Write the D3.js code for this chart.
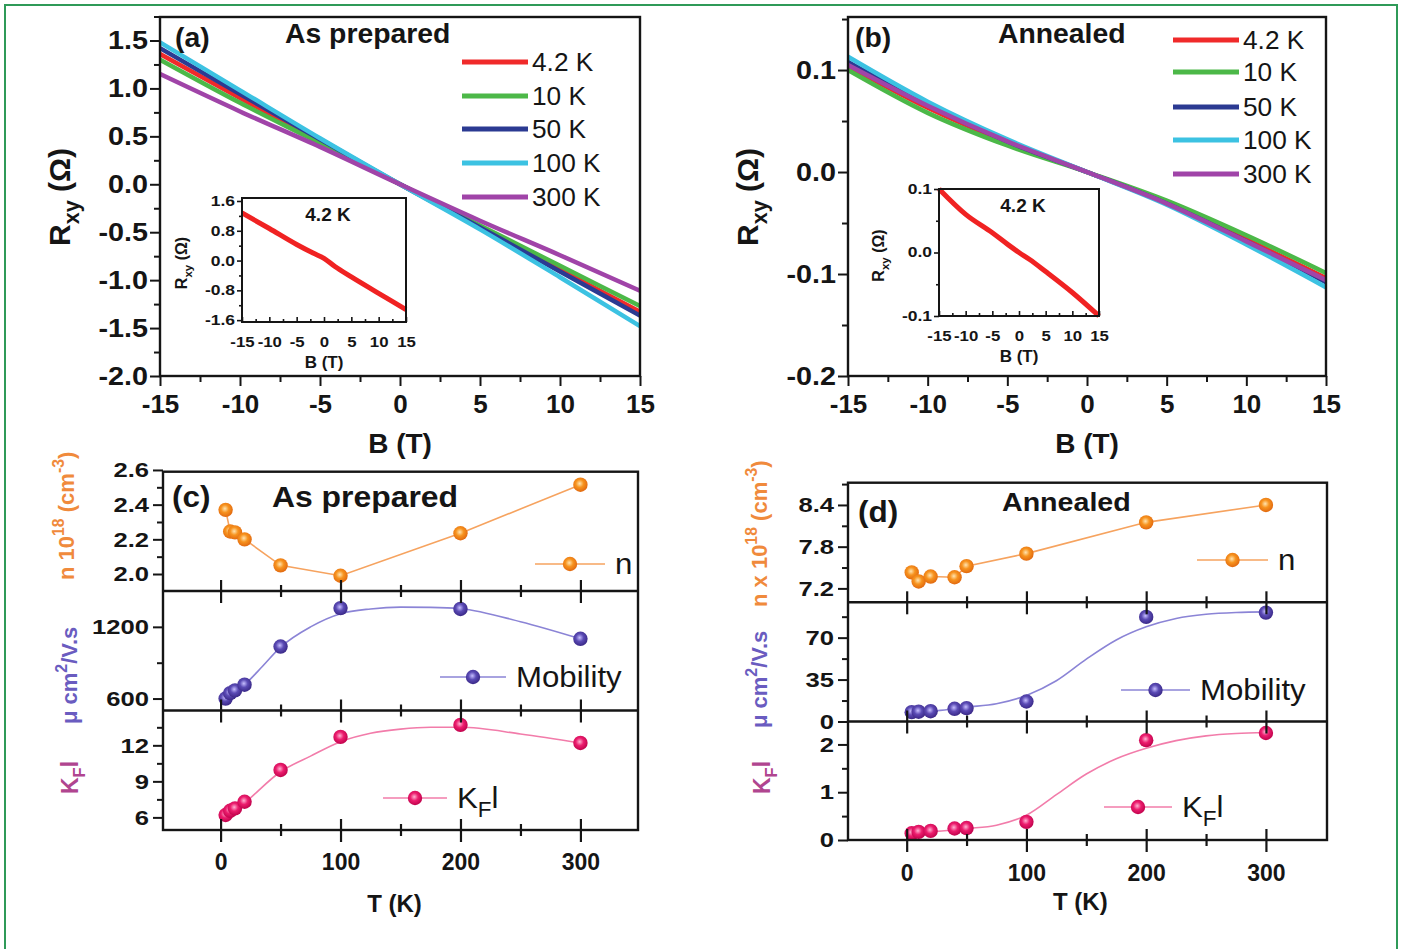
<!DOCTYPE html>
<html>
<head>
<meta charset="utf-8">
<script src="https://cdn.jsdelivr.net/npm/d3@7"></script>
<style>
  body { margin: 0; background: #fff; }
  svg { display: block; font-family: "Liberation Sans", Arial, sans-serif; }
</style>
</head>
<body>
<svg width="1403" height="949"></svg>
<script>
// ---------- data ----------
const tempLabels = ["4.2 K", "10 K", "50 K", "100 K", "300 K"];
const tempColors = ["#f02a2a", "#4cb848", "#2b3a92", "#3cc2e2", "#a044a8"];

const fieldB = [-15, -10, -5, 0, 5, 10, 15];
// Rxy (ohm), as prepared
const rxyPrep4 = [1.36, 0.90, 0.45, 0.0, -0.45, -0.89, -1.33];
const rxyPrep10 = [1.30, 0.85, 0.43, 0.0, -0.43, -0.85, -1.27];
const rxyPrep50 = [1.42, 0.94, 0.47, 0.0, -0.45, -0.91, -1.37];
const rxyPrep100 = [1.48, 0.98, 0.48, 0.0, -0.47, -0.97, -1.48];
const rxyPrep300 = [1.15, 0.76, 0.39, 0.0, -0.38, -0.74, -1.11];
// Rxy (ohm), annealed
const rxyAnn4 = [0.104, 0.063, 0.029, 0.0, -0.030, -0.066, -0.104];
const rxyAnn10 = [0.100, 0.058, 0.026, 0.0, -0.028, -0.062, -0.099];
const rxyAnn50 = [0.108, 0.066, 0.030, 0.0, -0.031, -0.068, -0.108];
const rxyAnn100 = [0.113, 0.069, 0.032, 0.0, -0.032, -0.071, -0.113];
const rxyAnn300 = [0.105, 0.065, 0.030, 0.0, -0.031, -0.068, -0.106];

// insets, 4.2 K
const insetB = [-15, -10, -5, -2, 0, 2, 5, 10, 15];
const insetPrep = [1.28, 0.86, 0.43, 0.20, 0.06, -0.16, -0.44, -0.88, -1.32];
const insetAnn = [0.100, 0.060, 0.031, 0.012, 0.0, -0.011, -0.030, -0.063, -0.100];

// (c) as prepared vs T
const tPrep = [4.2, 8, 12, 20, 50, 100, 200, 300];
const nPrep = [2.37, 2.245, 2.24, 2.20, 2.05, 1.99, 2.235, 2.515];
const mobPrep = [600, 645, 668, 716, 1035, 1357, 1350, 1100];
const kflPrep = [6.2, 6.55, 6.75, 7.3, 9.95, 12.7, 13.7, 12.2];
const fitTPrepMob = [4.2, 20, 35, 50, 75, 100, 125, 150, 175, 200, 250, 300];
const fitMobPrep = [590, 715, 870, 1030, 1200, 1310, 1350, 1365, 1363, 1352, 1243, 1100];
const fitTPrepKfl = [4.2, 20, 50, 75, 100, 125, 150, 175, 200, 250, 300];
const fitKflPrep = [6.0, 7.2, 9.8, 11.1, 12.3, 13.0, 13.35, 13.5, 13.5, 12.95, 12.2];

// (d) annealed vs T
const tAnn = [4.2, 10, 20, 40, 50, 100, 200, 300];
const nAnn = [7.43, 7.30, 7.37, 7.36, 7.52, 7.70, 8.15, 8.40];
const mobAnn = [7.8, 8.2, 8.6, 10.6, 11.2, 16.7, 87.3, 90.9];
const kflAnn = [0.14, 0.17, 0.19, 0.24, 0.25, 0.38, 2.09, 2.24];
const fitTAnn = [4.2, 25, 50, 75, 100, 125, 150, 175, 200, 225, 250, 275, 300];
const fitMobAnn = [8, 9, 12, 14.8, 21.8, 34, 52, 68, 79, 86, 89.5, 91, 91.5];
const fitKflAnn = [0.15, 0.18, 0.24, 0.31, 0.52, 0.95, 1.38, 1.70, 1.92, 2.08, 2.18, 2.23, 2.25];

// ---------- helpers ----------
const svg = d3.select("svg");
const ink = "#151515";

svg.append("rect")
  .attr("x", 5).attr("y", 5).attr("width", 1392).attr("height", 970)
  .attr("fill", "none").attr("stroke", "#2f9a58").attr("stroke-width", 2);

const defs = svg.append("defs");
function ballGrad(id, c0, c1, c2) {
  const gr = defs.append("radialGradient").attr("id", id)
    .attr("cx", "45%").attr("cy", "42%").attr("r", "60%");
  gr.append("stop").attr("offset", "0%").attr("stop-color", c0);
  gr.append("stop").attr("offset", "45%").attr("stop-color", c1);
  gr.append("stop").attr("offset", "100%").attr("stop-color", c2);
}
ballGrad("ballN", "#ffe4b0", "#f7931e", "#e0660e");
ballGrad("ballM", "#c6beff", "#5b4bb5", "#372684");
ballGrad("ballK", "#ffb2d2", "#ec1d6e", "#bd0049");

// parts: [[text, "sub"|"sup"|undefined], ...]
function addText(parent, x, y, parts, o = {}) {
  const size = o.size || 20;
  const t = parent.append("text")
    .attr("transform", `translate(${x},${y})` + (o.rotate ? ` rotate(${o.rotate})` : "") + ` scale(${o.k || 1},1)`)
    .attr("font-size", size)
    .attr("font-weight", o.weight || "bold")
    .attr("fill", o.fill || ink)
    .attr("text-anchor", o.anchor || "start");
  if (typeof parts === "string") parts = [[parts]];
  let cur = 0;
  parts.forEach(([s, kind]) => {
    const off = kind === "sub" ? size * 0.3 : kind === "sup" ? -size * 0.45 : 0;
    t.append("tspan")
      .attr("font-size", kind ? size * 0.72 : size)
      .attr("dy", off - cur)
      .text(s);
    cur = off;
  });
  return t;
}

function styleTicks(ax, size, k, sw) {
  ax.select(".domain").remove();
  ax.selectAll("line").attr("stroke", ink).attr("stroke-width", sw);
  ax.selectAll("text")
    .attr("font-size", size).attr("font-weight", "bold")
    .attr("font-family", "\"Liberation Sans\", Arial, sans-serif").attr("fill", ink)
    .each(function () {
      const t = d3.select(this);
      t.attr("x", (+t.attr("x") || 0) / k).attr("transform", `scale(${k},1)`);
    });
}

function leftAxis(g, y, xPos, major, minor, fmt, o) {
  const a = g.append("g").attr("transform", `translate(${xPos},0)`)
    .call(d3.axisLeft(y).tickValues(major).tickFormat(fmt)
      .tickSize(o.tick).tickPadding(o.pad).tickSizeOuter(0));
  styleTicks(a, o.size, o.k, o.sw);
  if (minor) {
    const m = g.append("g").attr("transform", `translate(${xPos},0)`)
      .call(d3.axisLeft(y).tickValues(minor).tickFormat("").tickSize(o.minor).tickSizeOuter(0));
    styleTicks(m, o.size, 1, o.sw);
  }
}

function bottomAxis(g, x, yPos, major, minor, fmt, o) {
  const a = g.append("g").attr("transform", `translate(0,${yPos})`)
    .call(d3.axisBottom(x).tickValues(major).tickFormat(fmt)
      .tickSize(o.tick).tickPadding(o.pad).tickSizeOuter(0));
  styleTicks(a, o.size, o.k, o.sw);
  if (minor) {
    const m = g.append("g").attr("transform", `translate(0,${yPos})`)
      .call(d3.axisBottom(x).tickValues(minor).tickFormat("").tickSize(o.minor).tickSizeOuter(0));
    styleTicks(m, o.size, 1, o.sw);
  }
}

function frame(g, l, t, r, b, sw) {
  g.append("rect").attr("x", l).attr("y", t).attr("width", r - l).attr("height", b - t)
    .attr("fill", "none").attr("stroke", ink).attr("stroke-width", sw);
}

// ---------- Hall panels (a), (b) ----------
function hallPanel(o) {
  const g = svg.append("g");
  const x = d3.scaleLinear([-15, 15], [o.l, o.r]);
  const y = d3.scaleLinear(o.yDom, [o.b, o.t]);
  const line = d3.line().x((d, i) => x(fieldB[i])).y(d => y(d)).curve(d3.curveMonotoneX);
  o.series.forEach((s, i) => {
    g.append("path").attr("d", line(s)).attr("fill", "none")
      .attr("stroke", tempColors[i]).attr("stroke-width", 4.5).attr("stroke-linecap", "butt");
  });
  frame(g, o.l, o.t, o.r, o.b, 2.4);
  leftAxis(g, y, o.l, o.yMajor, o.yMinor, d => d.toFixed(o.dec),
    { tick: 10, minor: 6, pad: 2, size: 25, k: 1.15, sw: 2 });
  bottomAxis(g, x, o.b, d3.range(-15, 16, 5), d3.range(-12.5, 15, 5), d => String(d),
    { tick: 10, minor: 6, pad: 9, size: 26, k: 1, sw: 2 });
  addText(g, (o.l + o.r) / 2, 453, "B (T)", { size: 28, anchor: "middle" });
  addText(g, o.yLabX, 197, [["R"], ["xy", "sub"], [" (Ω)"]], { size: 30, anchor: "middle", rotate: -90 });
  addText(g, o.tagX, 47, o.tag, { size: 27, k: 1.05 });
  addText(g, o.titleX, 43, o.title, { size: 27, k: 1.05 });

  tempLabels.forEach((lab, i) => {
    const yy = o.legY[i];
    g.append("line").attr("x1", o.legX).attr("x2", o.legX + 66).attr("y1", yy).attr("y2", yy)
      .attr("stroke", tempColors[i]).attr("stroke-width", 5);
    addText(g, o.legX + 70, yy + 9, lab, { size: 25, weight: "normal", k: 1.05 });
  });

  // inset
  const ix = d3.scaleLinear([-15, 15], [o.in.l, o.in.r]);
  const iy = d3.scaleLinear(o.in.yDom, [o.in.b, o.in.t]);
  g.append("rect").attr("x", o.in.l).attr("y", o.in.t)
    .attr("width", o.in.r - o.in.l).attr("height", o.in.b - o.in.t).attr("fill", "#fff");
  const iline = d3.line().x((d, i) => ix(insetB[i])).y(d => iy(d)).curve(d3.curveMonotoneX);
  g.append("path").attr("d", iline(o.in.data)).attr("fill", "none")
    .attr("stroke", "#f02222").attr("stroke-width", 5);
  frame(g, o.in.l, o.in.t, o.in.r, o.in.b, 2);
  leftAxis(g, iy, o.in.l, o.in.yMajor, o.in.yMinor, d => d.toFixed(1),
    { tick: 5, minor: 3, pad: 2, size: 14, k: 1.25, sw: 1.6 });
  bottomAxis(g, ix, o.in.b, d3.range(-15, 16, 5), d3.range(-12.5, 15, 2.5).filter(v => v % 5 !== 0),
    d => String(d), { tick: -5, minor: -3, pad: o.in.pad, size: 15, k: 1.12, sw: 1.6 });
  addText(g, (o.in.l + o.in.r) / 2, o.in.b + 46, "B (T)", { size: 17, anchor: "middle" });
  addText(g, o.in.labX, (o.in.t + o.in.b) / 2 + 3, [["R"], ["xy", "sub"], [" (Ω)"]],
    { size: 16, anchor: "middle", rotate: -90 });
  addText(g, (o.in.l + o.in.r) / 2 + 4, o.in.t + 23, "4.2 K", { size: 19, anchor: "middle" });
}

hallPanel({
  l: 160, r: 640, t: 17, b: 376, yDom: [-2, 1.745],
  yMajor: d3.range(-2, 1.6, 0.5), yMinor: d3.range(-1.75, 1.8, 0.5), dec: 1,
  series: [rxyPrep4, rxyPrep10, rxyPrep50, rxyPrep100, rxyPrep300],
  yLabX: 70, tag: "(a)", tagX: 175, title: "As prepared", titleX: 285,
  legX: 462, legY: [62, 96, 129, 163, 197],
  in: { l: 242, r: 406, t: 198, b: 322, yDom: [-1.65, 1.68],
        yMajor: [-1.6, -0.8, 0, 0.8, 1.6], yMinor: [-1.2, -0.4, 0.4, 1.2],
        data: insetPrep, pad: 14, labX: 187 }
});

hallPanel({
  l: 848, r: 1326, t: 17, b: 376, yDom: [-0.2, 0.152],
  yMajor: [-0.2, -0.1, 0, 0.1], yMinor: [-0.15, -0.05, 0.05, 0.15], dec: 1,
  series: [rxyAnn4, rxyAnn10, rxyAnn50, rxyAnn100, rxyAnn300],
  yLabX: 758, tag: "(b)", tagX: 855, title: "Annealed", titleX: 998,
  legX: 1173, legY: [40, 72, 107, 140, 174],
  in: { l: 939, r: 1099, t: 189, b: 316, yDom: [-0.1, 0.1],
        yMajor: [-0.1, 0, 0.1], yMinor: [-0.05, 0.05],
        data: insetAnn, pad: 14, labX: 884 }
});

// ---------- temperature panels (c), (d) ----------
function stackPanel(o) {
  const g = svg.append("g");
  const x = d3.scaleLinear(o.xDom, [o.l, o.r]);
  const rows = [
    { top: o.t, bot: o.d1, dom: o.nDom, major: o.nMajor, minor: o.nMinor, fmt: d => d.toFixed(1),
      T: o.T, v: o.n, fitT: o.T, fitV: o.n, lineC: "#f6a35f", ball: "ballN",
      curve: d3.curveLinear, leg: o.legN, legText: [["n"]] },
    { top: o.d1, bot: o.d2, dom: o.mDom, major: o.mMajor, minor: o.mMinor, fmt: d => String(d),
      T: o.T, v: o.m, fitT: o.fitTm, fitV: o.fitM, lineC: "#8b84d6", ball: "ballM",
      curve: d3.curveMonotoneX, leg: o.legM, legText: [["Mobility"]] },
    { top: o.d2, bot: o.b, dom: o.kDom, major: o.kMajor, minor: o.kMinor, fmt: d => String(d),
      T: o.T, v: o.kf, fitT: o.fitTk, fitV: o.fitK, lineC: "#f27caa", ball: "ballK",
      curve: d3.curveMonotoneX, leg: o.legK, legText: [["K"], ["F", "sub"], ["l"]] }
  ];
  rows.forEach(r => {
    const y = d3.scaleLinear(r.dom, [r.bot, r.top]);
    const line = d3.line().x((d, i) => x(r.fitT[i])).y(d => y(d)).curve(r.curve);
    g.append("path").attr("d", line(r.fitV)).attr("fill", "none")
      .attr("stroke", r.lineC).attr("stroke-width", 1.6);
    g.selectAll(null).data(r.v).enter().append("circle")
      .attr("cx", (d, i) => x(r.T[i])).attr("cy", d => y(d)).attr("r", 7.2)
      .attr("fill", `url(#${r.ball})`);
    leftAxis(g, y, o.l, r.major, r.minor, r.fmt,
      { tick: 10, minor: 6, pad: 4, size: 21, k: 1.22, sw: 2 });
    // legend: line - ball - line, then text
    g.append("line").attr("x1", r.leg[0]).attr("x2", r.leg[1]).attr("y1", r.leg[2]).attr("y2", r.leg[2])
      .attr("stroke", r.lineC).attr("stroke-width", 1.6);
    g.append("circle").attr("cx", (r.leg[0] + r.leg[1]) / 2).attr("cy", r.leg[2]).attr("r", 7.2)
      .attr("fill", `url(#${r.ball})`);
    addText(g, r.leg[1] + 10, r.leg[2] + 10, r.legText, { size: 30, weight: "normal", k: 1.04 });
  });
  // frame and dividers
  frame(g, o.l, o.t, o.r, o.b, 2.4);
  [o.d1, o.d2].forEach(yy => g.append("line").attr("x1", o.l).attr("x2", o.r)
    .attr("y1", yy).attr("y2", yy).attr("stroke", ink).attr("stroke-width", 2.4));
  // crossing x ticks at dividers and bottom
  [o.d1, o.d2, o.b].forEach(yy => {
    bottomAxis(g, x, yy - 11, [0, 100, 200, 300], null, "", { tick: 23, pad: 0, size: 10, k: 1, sw: 2.2 });
    bottomAxis(g, x, yy - 6, [50, 150, 250], null, "", { tick: 12, pad: 0, size: 10, k: 1, sw: 2.2 });
  });
  bottomAxis(g, x, o.b, [0, 100, 200, 300], null, d => String(d),
    { tick: 0, pad: o.xPad, size: 23, k: 1, sw: 0 });
  addText(g, x(150) - 6, o.xTitleY, "T (K)", { size: 24, anchor: "middle" });
  addText(g, o.tagX, o.tagY, o.tag, { size: 30, k: 1.05 });
  addText(g, o.titleX, o.titleY, o.title, { size: o.titleSize, k: 1.1 });
  // rotated y titles
  addText(g, o.yl[0], o.yl[1], o.nLabel, { size: 22, rotate: -90, fill: "#f08a3c" });
  addText(g, o.yl[2], o.yl[3], [["μ cm"], ["2", "sup"], ["/V.s"]], { size: 22, rotate: -90, fill: "#6a5cc0" });
  addText(g, o.yl[4], o.yl[5], [["K"], ["F", "sub"], ["l"]], { size: 23, rotate: -90, fill: "#b0458f" });
}

stackPanel({
  l: 163, r: 638, t: 471.7, d1: 591, d2: 710.5, b: 830, xDom: [-48, 348],
  T: tPrep, n: nPrep, m: mobPrep, kf: kflPrep,
  fitTm: fitTPrepMob, fitM: fitMobPrep, fitTk: fitTPrepKfl, fitK: fitKflPrep,
  nDom: [1.902, 2.59], nMajor: [2.0, 2.2, 2.4, 2.6], nMinor: [2.1, 2.3, 2.5],
  mDom: [500, 1500], mMajor: [600, 1200], mMinor: [900],
  kDom: [4.95, 14.9], kMajor: [6, 9, 12], kMinor: [7.5, 10.5, 13.5],
  legN: [535, 605, 564], legM: [440, 506, 677], legK: [383, 447, 798],
  xPad: 24, xTitleY: 912,
  tag: "(c)", tagX: 172, tagY: 507, title: "As prepared", titleX: 272, titleY: 507, titleSize: 29,
  nLabel: [["n 10"], ["18", "sup"], [" (cm"], ["-3", "sup"], [")"]],
  yl: [74, 580, 77, 724, 78, 794]
});

stackPanel({
  l: 848, r: 1327, t: 482.7, d1: 602.3, d2: 721.5, b: 840, xDom: [-49, 351],
  T: tAnn, n: nAnn, m: mobAnn, kf: kflAnn,
  fitTm: fitTAnn, fitM: fitMobAnn, fitTk: fitTAnn, fitK: fitKflAnn,
  nDom: [7.0, 8.72], nMajor: [7.2, 7.8, 8.4], nMinor: [7.5, 8.1, 8.7],
  mDom: [0, 99.5], mMajor: [0, 35, 70], mMinor: [17.5, 52.5, 87.5],
  kDom: [0, 2.48], kMajor: [0, 1, 2], kMinor: [0.5, 1.5],
  legN: [1197, 1268, 560], legM: [1121, 1190, 690], legK: [1104, 1172, 807],
  xPad: 25, xTitleY: 910,
  tag: "(d)", tagX: 858, tagY: 522, title: "Annealed", titleX: 1002, titleY: 511, titleSize: 26,
  nLabel: [["n x 10"], ["18", "sup"], [" (cm"], ["-3", "sup"], [")"]],
  yl: [767, 607, 767, 728, 770, 794]
});
</script>
</body>
</html>
